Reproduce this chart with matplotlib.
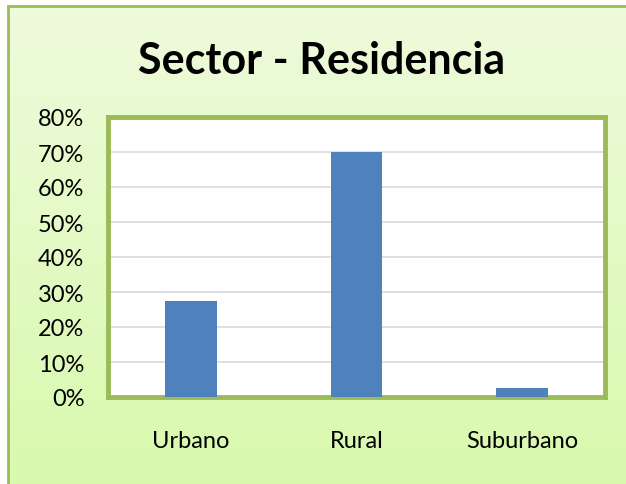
import numpy as np
import matplotlib.pyplot as plt
from matplotlib.colors import LinearSegmentedColormap
from matplotlib.patches import Rectangle
from matplotlib.ticker import PercentFormatter

categorias = ["Urbano", "Rural", "Suburbano"]
porcentajes = [27.5, 70.0, 2.5]
titulo = "Sector - Residencia"

plt.rcParams['font.family'] = ['Lato', 'DejaVu Sans']

fig = plt.figure(figsize=(6.26, 4.85), dpi=100)

# fondo degradado verde claro, el marco sale por abajo y por la derecha
bg = fig.add_axes([0, 0, 1, 1], zorder=-10)
cmap = LinearSegmentedColormap.from_list("verde", ["#d8f9ab", "#eefbdc"])
x0, y1 = 8 / 626, 1 - 7 / 485
bg.add_patch(Rectangle((0, 0), 1, 1, facecolor="white", edgecolor="none", zorder=-2))
bg.imshow(np.linspace(0, 1, 256).reshape(-1, 1), aspect="auto", cmap=cmap,
          extent=[x0, 1.05, -0.05, y1], origin="lower", zorder=-1)
bg.add_patch(Rectangle((x0, -0.05), 1.1, y1 + 0.05, fill=False,
                       edgecolor="#9bbb59", linewidth=2, zorder=5))
bg.set_xlim(0, 1)
bg.set_ylim(0, 1)
bg.axis("off")

ax = fig.add_axes([108 / 626, 87 / 485, 497 / 626, 280 / 485])
x = np.arange(len(categorias))
ax.bar(x, porcentajes, width=0.31, color="#4f81bd", zorder=3)
ax.set_xlim(-0.5, 2.5)
ax.set_ylim(0, 80)
ax.set_yticks(np.arange(0, 81, 10))
ax.yaxis.set_major_formatter(PercentFormatter(decimals=0))
ax.set_xticks(x)
ax.set_xticklabels(categorias)
ax.grid(axis="y", color="#d9d9d9", linewidth=1.2, zorder=0)
ax.tick_params(length=0, labelsize=17)
ax.tick_params(axis="y", pad=17)
ax.tick_params(axis="x", pad=24)
for s in ax.spines.values():
    s.set_color("#9bbb59")
    s.set_linewidth(3.5)
ax.set_facecolor("white")

fig.text(0.513, 0.875, titulo, ha="center", va="center",
         fontsize=31, fontweight="bold")

fig.savefig("out.png", dpi=100)
